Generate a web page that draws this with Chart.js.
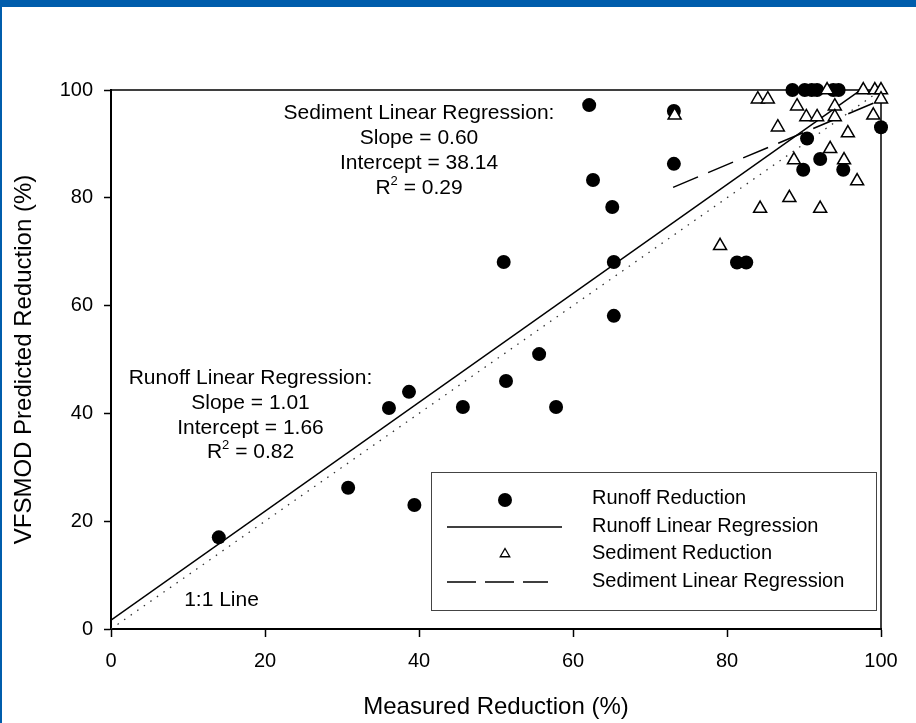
<!DOCTYPE html>
<html><head><meta charset="utf-8">
<script src="https://cdn.jsdelivr.net/npm/chart.js@4.4.0/dist/chart.umd.min.js"></script>
<style>html,body{margin:0;padding:0;background:#fff;}#wrap{width:916px;height:723px;}</style>
</head><body><div id="wrap"><canvas id="c" width="916" height="723"></canvas></div>
<script>
// ---- data ----
const runoffX = [14, 30.8, 36.1, 38.7, 39.4, 45.7, 51.0, 51.3, 55.6, 57.8, 62.1, 62.6, 65.1, 65.3, 65.3, 73.1, 73.1, 81.3, 82.5, 88.5, 90.1, 91.0, 91.7, 93.8, 94.5, 90.4, 92.1, 89.9, 95.1, 100];
const runoffY = [17, 26.2, 41, 44, 23, 41.2, 68.1, 46, 51, 41.2, 97.2, 83.3, 78.3, 68.1, 58.1, 96.1, 86.3, 68, 68, 100, 100, 100, 100, 100, 100, 91, 87.2, 85.2, 85.2, 93.1];
const sedimentX = [73.2, 79.1, 84.0, 85.3, 84.3, 86.6, 88.1, 88.7, 89.1, 90.3, 91.7, 92.1, 93.0, 93.4, 94.0, 94.0, 95.2, 95.7, 96.9, 97.7, 99.0, 99.2, 100, 100];
const sedimentY = [95.3, 71.1, 98.3, 98.3, 78.0, 93.1, 80.0, 87.0, 97.0, 95.0, 95.0, 78.0, 100, 89.1, 97.0, 95.0, 87.0, 92.0, 83.1, 100, 95.3, 100, 100, 98.3];
const xTicks = [0, 20, 40, 60, 80, 100];
const yTicks = [0, 20, 40, 60, 80, 100];
const runoffSlope = 1.01, runoffIntercept = 1.66, runoffR2 = '0.82';
const sedSlope = 0.60, sedIntercept = 38.14, sedR2 = '0.29';
const runoffFitX = [0, 100];
const sedFitX = [73, 100];
const oneToOneX = [0, 100];
const seriesLabels = ['Runoff Reduction', 'Runoff Linear Regression', 'Sediment Reduction', 'Sediment Linear Regression'];
const xTitle = 'Measured Reduction (%)';
const yTitle = 'VFSMOD Predicted Reduction (%)';

const FONT = "'Liberation Sans', Arial, Helvetica, sans-serif";
Chart.defaults.font.family = FONT;
Chart.defaults.color = '#000';

const pts = (xs, ys) => xs.map((x, i) => ({x: x, y: ys[i]}));
const fit = (xs, m, b) => xs.map(x => ({x: x, y: m * x + b}));

function textCap(ctx, str, x, capY, size, align) {
  ctx.font = size + 'px ' + FONT;
  ctx.textAlign = align || 'center';
  ctx.textBaseline = 'alphabetic';
  ctx.fillText(str, x, capY + 0.358 * size);
}
function r2Line(ctx, val, cx, capY, size) {
  ctx.textBaseline = 'alphabetic';
  ctx.textAlign = 'left';
  const base = capY + 0.358 * size;
  ctx.font = size + 'px ' + FONT;
  const wR = ctx.measureText('R').width;
  const rest = ' = ' + val;
  const wRest = ctx.measureText(rest).width;
  const ss = Math.round(size * 0.62);
  ctx.font = ss + 'px ' + FONT;
  const w2 = ctx.measureText('2').width;
  const total = wR + w2 + wRest;
  let x = cx - total / 2;
  ctx.font = size + 'px ' + FONT;
  ctx.fillText('R', x, base);
  x += wR;
  ctx.font = ss + 'px ' + FONT;
  ctx.fillText('2', x, base - size * 0.42);
  x += w2;
  ctx.font = size + 'px ' + FONT;
  ctx.fillText(rest, x, base);
}

const decor = {
  id: 'decor',
  beforeDraw(chart) {
    const ctx = chart.ctx;
    ctx.save();
    ctx.fillStyle = '#fff';
    ctx.fillRect(0, 0, chart.width, chart.height);
    ctx.fillStyle = '#005DAC';
    ctx.fillRect(0, 0, chart.width, 7);
    ctx.fillRect(0, 0, 2, chart.height);
    ctx.restore();
  },
  beforeDatasetsDraw(chart) {
    const ctx = chart.ctx, a = chart.chartArea;
    ctx.save();
    ctx.strokeStyle = '#000';
    ctx.lineWidth = 1.5;
    ctx.beginPath();
    ctx.moveTo(a.left, a.top);
    ctx.lineTo(a.right, a.top);
    ctx.lineTo(a.right, a.bottom);
    ctx.stroke();
    ctx.restore();
  },
  afterDraw(chart) {
    const ctx = chart.ctx;
    ctx.save();
    ctx.fillStyle = '#000';
    // sediment annotation
    textCap(ctx, 'Sediment Linear Regression:', 419, 111.7, 21);
    textCap(ctx, 'Slope = ' + sedSlope.toFixed(2), 419, 136.7, 21);
    textCap(ctx, 'Intercept = ' + sedIntercept.toFixed(2), 419, 161.7, 21);
    r2Line(ctx, sedR2, 419, 186.7, 21);
    // runoff annotation
    textCap(ctx, 'Runoff Linear Regression:', 250.5, 376.7, 21);
    textCap(ctx, 'Slope = ' + runoffSlope.toFixed(2), 250.5, 401.7, 21);
    textCap(ctx, 'Intercept = ' + runoffIntercept.toFixed(2), 250.5, 426.7, 21);
    r2Line(ctx, runoffR2, 250.5, 450.7, 21);
    textCap(ctx, '1:1 Line', 221.5, 598, 21);

    // legend
    ctx.fillStyle = '#fff';
    ctx.fillRect(431.5, 472.5, 445, 138);
    ctx.strokeStyle = '#444';
    ctx.lineWidth = 1;
    ctx.strokeRect(431.5, 472.5, 445, 138);
    const rows = [497, 524.5, 552, 580];
    ctx.fillStyle = '#000';
    seriesLabels.forEach((lab, i) => textCap(ctx, lab, 592, rows[i], 20, 'left'));
    // markers
    ctx.beginPath();
    ctx.arc(505, 500, 7, 0, Math.PI * 2);
    ctx.fillStyle = '#000';
    ctx.fill();
    ctx.strokeStyle = '#000';
    ctx.lineWidth = 1.5;
    ctx.beginPath();
    ctx.moveTo(447, 527); ctx.lineTo(562, 527);
    ctx.stroke();
    ctx.lineWidth = 1.3;
    const tr = 5.5, ty = 554;
    ctx.beginPath();
    ctx.moveTo(505, ty - tr);
    ctx.lineTo(505 + tr * Math.sin(2 * Math.PI / 3), ty - tr * Math.cos(2 * Math.PI / 3));
    ctx.lineTo(505 - tr * Math.sin(2 * Math.PI / 3), ty - tr * Math.cos(2 * Math.PI / 3));
    ctx.closePath();
    ctx.fillStyle = '#fff';
    ctx.fill();
    ctx.stroke();
    ctx.lineWidth = 1.5;
    ctx.setLineDash([29, 9]);
    ctx.beginPath();
    ctx.moveTo(447, 582); ctx.lineTo(548, 582);
    ctx.stroke();
    ctx.setLineDash([]);
    ctx.restore();
  }
};

new Chart(document.getElementById('c'), {
  type: 'scatter',
  data: {
    datasets: [
      {label: seriesLabels[2], data: pts(sedimentX, sedimentY), pointStyle: 'triangle', pointRadius: 7.5,
       backgroundColor: '#fff', borderColor: '#000', borderWidth: 1.5, clip: false},
      {label: seriesLabels[0], data: pts(runoffX, runoffY), pointStyle: 'circle', pointRadius: 7,
       backgroundColor: '#000', borderColor: '#000', borderWidth: 0, clip: false},
      {label: seriesLabels[3], type: 'line', data: fit(sedFitX, sedSlope, sedIntercept), showLine: true,
       borderColor: '#000', borderWidth: 1.5, borderDash: [27, 11], pointRadius: 0, fill: false},
      {label: seriesLabels[1], type: 'line', data: fit(runoffFitX, runoffSlope, runoffIntercept), showLine: true,
       borderColor: '#000', borderWidth: 1.5, pointRadius: 0, fill: false},
      {label: '1:1 Line', type: 'line', data: fit(oneToOneX, 1, 0), showLine: true,
       borderColor: '#333', borderWidth: 1.3, borderDash: [1.5, 6.5], pointRadius: 0, fill: false}
    ]
  },
  options: {
    responsive: false,
    animation: false,
    events: [],
    layout: {padding: {left: 0, top: 90, right: 35, bottom: 0}},
    plugins: {legend: {display: false}, tooltip: {enabled: false}},
    scales: {
      x: {
        type: 'linear', min: 0, max: 100,
        afterBuildTicks: s => { s.ticks = xTicks.map(v => ({value: v})); },
        afterFit: s => { s.height = 94; },
        border: {display: true, color: '#000', width: 2},
        grid: {display: true, drawOnChartArea: false, drawTicks: true, tickLength: 8, tickColor: '#000', tickWidth: 1.5},
        ticks: {padding: 12, font: {size: 20}, color: '#000', maxRotation: 0},
        title: {display: true, text: xTitle, font: {size: 24, lineHeight: 1.2}, color: '#000', padding: 1.6}
      },
      y: {
        type: 'linear', min: 0, max: 100,
        afterBuildTicks: s => { s.ticks = yTicks.map(v => ({value: v})); },
        afterFit: s => { s.width = 111; },
        border: {display: true, color: '#000', width: 2},
        grid: {display: true, drawOnChartArea: false, drawTicks: true, tickLength: 7, tickColor: '#000', tickWidth: 1.5},
        ticks: {padding: 11, font: {size: 20}, color: '#000'},
        title: {display: true, text: yTitle, font: {size: 24, lineHeight: 1.2}, color: '#000', padding: 9.6}
      }
    }
  },
  plugins: [decor]
});
</script>
</body></html>
